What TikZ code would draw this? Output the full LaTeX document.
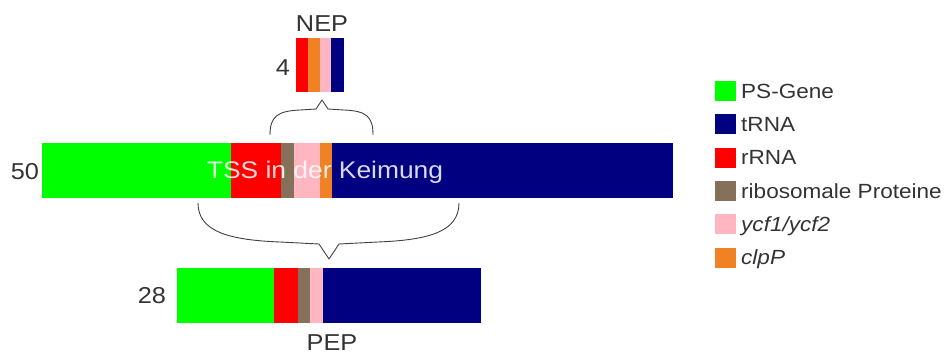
\documentclass[tikz,border=0pt]{standalone}
\usepackage{fontspec}
\setmainfont{Liberation Sans}[FakeStretch=1.1]
\definecolor{psg}{HTML}{00FF00}
\definecolor{trna}{HTML}{000080}
\definecolor{rrna}{HTML}{FF0000}
\definecolor{ribo}{HTML}{85715A}
\definecolor{ycf}{HTML}{FFB6C1}
\definecolor{clp}{HTML}{F08224}
\definecolor{txt}{HTML}{333333}
\tikzset{
  seg/.style={fill=#1, draw=none},
  big/.style={inner sep=0pt, anchor=base, text=txt, font=\fontsize{23}{23}\selectfont},
  leg/.style={inner sep=0pt, anchor=base west, text=txt, font=\fontsize{20.5}{20.5}\selectfont},
  legbox/.style={fill=#1, draw=none, minimum width=21pt, minimum height=20pt, inner sep=0pt},
  brace/.style={draw=black!75, line width=0.9pt, line join=round}
}
\begin{document}
\begin{tikzpicture}[x=1pt, y=-1pt]
\useasboundingbox (0,0) rectangle (946,354);
% main bar (50)
\fill[seg=psg]  (42,143) rectangle (231,198);
\fill[seg=rrna] (231,143) rectangle (281,198);
\fill[seg=ribo] (281,143) rectangle (294,198);
\fill[seg=ycf]  (294,143) rectangle (320,198);
\fill[seg=clp]  (320,143) rectangle (332,198);
\fill[seg=trna] (332,143) rectangle (673,198);
\node[big] (n50) at (25,179) {50};
\node[inner sep=0pt, anchor=base, text=white, opacity=0.85, font=\fontsize{24}{24}\selectfont] (tss) at (325,178) {TSS in der Keimung};
% NEP bar (4)
\fill[seg=rrna] (296,38) rectangle (308,92);
\fill[seg=clp]  (308,38) rectangle (320,92);
\fill[seg=ycf]  (320,38) rectangle (331,92);
\fill[seg=trna] (331,38) rectangle (344,92);
\node[big] (n4) at (283,75) {4};
\node[big] (nep) at (322,31) {NEP};
% PEP bar (28)
\fill[seg=psg]  (177,268) rectangle (274,323);
\fill[seg=rrna] (274,268) rectangle (298,323);
\fill[seg=ribo] (298,268) rectangle (310,323);
\fill[seg=ycf]  (310,268) rectangle (323,323);
\fill[seg=trna] (323,268) rectangle (481,323);
\node[big] (n28) at (152,303) {28};
\node[big] (pep) at (332,350) {PEP};
% upper brace
\coordinate (ub1) at (270,135);
\coordinate (ub2) at (373,135);
\coordinate (ubt) at (322,100);
\draw[brace] (ub1) .. controls (270,116) and (278,111) .. (300,110)
  -- (316,109) -- (ubt) -- (328,109) -- (344,110)
  .. controls (366,111) and (373,116) .. (ub2);
% lower brace
\coordinate (lb1) at (198,203);
\coordinate (lb2) at (459,203);
\coordinate (lbt) at (329,259);
\draw[brace] (lb1) .. controls (198,232) and (230,240) .. (280,242)
  -- (319,244) -- (lbt) -- (339,244) -- (378,242)
  .. controls (428,240) and (459,232) .. (lb2);
% legend
\node[legbox=psg]  (l1) at (725.5,91) {};
\node[legbox=trna] (l2) at (725.5,124.3) {};
\node[legbox=rrna] (l3) at (725.5,157.6) {};
\node[legbox=ribo] (l4) at (725.5,190.9) {};
\node[legbox=ycf]  (l5) at (725.5,224.2) {};
\node[legbox=clp]  (l6) at (725.5,257.5) {};
\node[leg] (t1) at (741,98.3) {PS-Gene};
\node[leg] (t2) at (741,131.6) {tRNA};
\node[leg] (t3) at (741,164.9) {rRNA};
\node[leg] (t4) at (741,198.2) {ribosomale Proteine};
\node[leg] (t5) at (741,231.5) {\itshape ycf1/ycf2};
\node[leg] (t6) at (741,264.8) {\itshape clpP};
\end{tikzpicture}
\end{document}
